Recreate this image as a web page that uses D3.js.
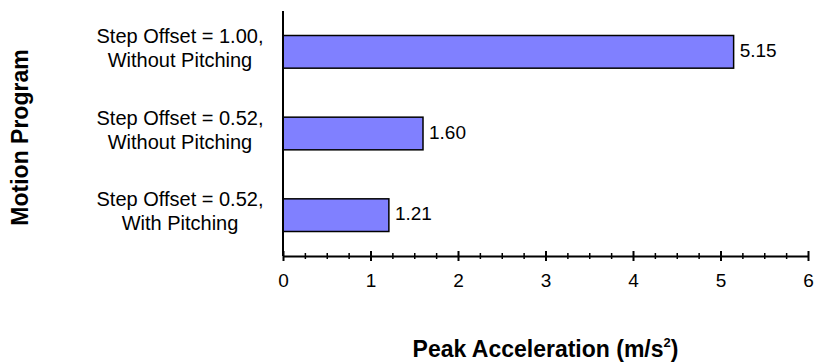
<!DOCTYPE html>
<html>
<head>
<meta charset="utf-8">
<script src="https://cdn.jsdelivr.net/npm/d3@7/dist/d3.min.js"></script>
<style>
  html, body { margin: 0; padding: 0; background: #ffffff; }
  svg { display: block; font-family: Arial, "Liberation Sans", sans-serif; }
</style>
</head>
<body>
<svg id="chart" width="821" height="364"></svg>
<script>
// Motion programs (top to bottom) and their peak accelerations in m/s²
const categories = [
  ["Step Offset = 1.00,", "Without Pitching"],
  ["Step Offset = 0.52,", "Without Pitching"],
  ["Step Offset = 0.52,", "With Pitching"]
];
const peakAcceleration = [5.15, 1.60, 1.21];
const valueLabels = ["5.15", "1.60", "1.21"];
const majorTicks = [0, 1, 2, 3, 4, 5, 6];
const minorTicks = d3.range(0, 24).map(i => i * 0.25).filter(v => v % 1 !== 0);
const xTitle = "Peak Acceleration (m/s";
const yTitle = "Motion Program";

const svg = d3.select("#chart");
const plot = { left: 283, right: 808, top: 11, bottom: 256 };

const x = d3.scaleLinear().domain([0, 6]).range([plot.left, plot.right]);
const y = d3.scaleBand()
  .domain(d3.range(categories.length))
  .range([plot.top, plot.bottom])
  .paddingInner(0.6)
  .paddingOuter(0.3);

// Bars
svg.append("g").selectAll("rect")
  .data(peakAcceleration)
  .join("rect")
  .attr("x", x(0))
  .attr("y", (d, i) => y(i))
  .attr("width", d => x(d) - x(0))
  .attr("height", y.bandwidth())
  .attr("fill", "#8080ff")
  .attr("stroke", "#000")
  .attr("stroke-width", 1.5);

// Value labels at the end of each bar
svg.append("g").selectAll("text")
  .data(peakAcceleration)
  .join("text")
  .attr("x", d => x(d) + 6)
  .attr("y", (d, i) => y(i) + y.bandwidth() / 2)
  .attr("dy", "0.28em")
  .attr("font-size", 19)
  .attr("fill", "#000")
  .text((d, i) => valueLabels[i]);

// Category labels, two centered lines each
const catG = svg.append("g");
categories.forEach((lines, i) => {
  const cy = y(i) + y.bandwidth() / 2;
  const t = catG.append("text")
    .attr("text-anchor", "middle")
    .attr("font-size", 20)
    .attr("fill", "#000");
  lines.forEach((line, j) => {
    t.append("tspan")
      .attr("x", 180)
      .attr("y", cy - 9 + j * 24)
      .text(line);
  });
});

// Vertical axis line
svg.append("line")
  .attr("x1", x(0)).attr("x2", x(0))
  .attr("y1", plot.top).attr("y2", plot.bottom)
  .attr("stroke", "#000").attr("stroke-width", 2);

// Horizontal axis with crossing major and minor ticks
const xAxis = svg.append("g")
  .attr("transform", `translate(0,${plot.bottom})`)
  .call(d3.axisBottom(x).tickValues(majorTicks).tickSize(5).tickSizeOuter(0).tickPadding(13).tickFormat(d3.format("d")));
xAxis.select(".domain").attr("stroke-width", 2);
xAxis.selectAll(".tick line").attr("y1", -5).attr("stroke-width", 2);
xAxis.selectAll(".tick text").attr("font-size", 19).attr("font-family", "Arial, 'Liberation Sans', sans-serif").attr("fill", "#000");

const xMinor = svg.append("g")
  .attr("transform", `translate(0,${plot.bottom})`)
  .call(d3.axisBottom(x).tickValues(minorTicks).tickSize(3).tickFormat(""));
xMinor.select(".domain").remove();
xMinor.selectAll(".tick line").attr("y1", -3).attr("stroke-width", 1.5);

// Axis titles
const xt = svg.append("text")
  .attr("x", (plot.left + plot.right) / 2)
  .attr("y", 357)
  .attr("text-anchor", "middle")
  .attr("font-size", 23)
  .attr("font-weight", "bold")
  .attr("fill", "#000");
xt.append("tspan").text(xTitle);
xt.append("tspan").attr("font-size", 13).attr("dy", -10).text("2");
xt.append("tspan").attr("dy", 10).text(")");

svg.append("text")
  .attr("transform", `translate(28,${(plot.top + plot.bottom) / 2 + 4}) rotate(-90)`)
  .attr("text-anchor", "middle")
  .attr("font-size", 23)
  .attr("font-weight", "bold")
  .attr("fill", "#000")
  .text(yTitle);
</script>
</body>
</html>
